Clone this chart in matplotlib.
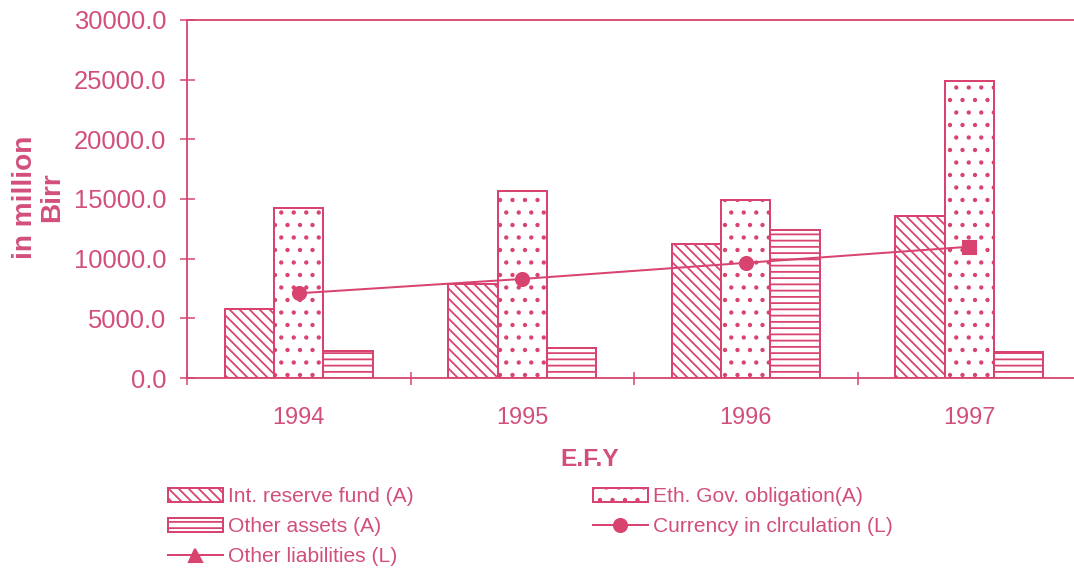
import matplotlib
matplotlib.use("Agg")
import matplotlib.pyplot as plt
from matplotlib.lines import Line2D
import numpy as np

plt.rcParams['font.family'] = ['Liberation Sans', 'DejaVu Sans']

DPI = 150
W, H = 1074, 573


def pt(px):
    """Convert a pixel size at the output resolution into points."""
    return px * 72.0 / DPI


plt.rcParams['hatch.linewidth'] = pt(1.8)

years = ["1994", "1995", "1996", "1997"]
reserve_fund = [5750, 7900, 11200, 13600]
gov_obligation = [14250, 15700, 14900, 24900]
other_assets = [2250, 2500, 12400, 2200]
currency = [7100, 8300, 9650, 11000]

pink = "#d8436f"
text_pink = "#d24f7a"

fig = plt.figure(figsize=(W / DPI, H / DPI), dpi=DPI)
ax = fig.add_axes([187 / W, (H - 378) / H, (1081 - 187) / W, (378 - 20) / H])

x = np.arange(len(years))
w = 0.22
edge = pt(2.0)
ax.bar(x - w, reserve_fund, w, facecolor="white", edgecolor=pink, hatch="\\" * 5,
       linewidth=edge, label="Int. reserve fund (A)")
ax.bar(x, gov_obligation, w, facecolor="white", edgecolor=pink, hatch="..",
       linewidth=edge, label="Eth. Gov. obligation(A)")
ax.bar(x + w, other_assets, w, facecolor="white", edgecolor=pink, hatch="----",
       linewidth=edge, label="Other assets (A)")

ax.plot(x, currency, color=pink, linewidth=pt(2.0), zorder=4)
ax.plot(x[:-1], currency[:-1], linestyle="none", marker="o", markersize=pt(13),
        color=pink, zorder=5)
ax.plot(x[-1:], currency[-1:], linestyle="none", marker="s", markersize=pt(13),
        color=pink, zorder=5)

ax.set_xlim(-0.5, len(years) - 0.5)
ax.set_ylim(0, 30000)
yt = np.arange(0, 30001, 5000)
ax.set_yticks(yt)
ax.set_yticklabels([f"{v:.1f}" for v in yt])
ax.set_xticks(x)
ax.set_xticklabels(years)
ax.set_xticks(np.arange(-0.5, len(years), 1.0), minor=True)
ax.tick_params(axis="x", which="major", length=0, pad=pt(28), labelsize=pt(23.5),
               labelcolor=text_pink)
ax.tick_params(axis="x", which="minor", direction="inout", length=pt(13), width=pt(1.5),
               color=pink)
ax.tick_params(axis="y", direction="inout", length=pt(15), width=pt(1.5), color=pink,
               labelsize=pt(25.5), labelcolor=text_pink, pad=pt(13))

for side in ["left", "bottom", "top"]:
    ax.spines[side].set_color(pink)
    ax.spines[side].set_linewidth(pt(1.8))
ax.spines["right"].set_visible(False)

fig.text(590 / W, 1 - 460 / H, "E.F.Y", ha="center", va="center",
         fontsize=pt(24.5), fontweight="bold", color=text_pink)
fig.text(39 / W, 1 - 197 / H, "in million\nBirr", rotation=90, ha="center", va="center",
         fontsize=pt(28), fontweight="bold", color=text_pink, linespacing=1.05)

handles, labels = ax.get_legend_handles_labels()
bar_h = {l: h for h, l in zip(handles, labels)}
cur_h = Line2D([], [], color=pink, marker="o", markersize=pt(13), linewidth=pt(2))
oth_h = Line2D([], [], color=pink, marker="^", markersize=pt(13), linewidth=pt(2))

leg_kw = dict(loc="upper left", frameon=False, fontsize=pt(21), handlelength=2.6,
              handleheight=0.65, handletextpad=0.25, labelspacing=0.53,
              borderaxespad=0, borderpad=0, labelcolor=text_pink)
fig.legend([bar_h["Int. reserve fund (A)"], bar_h["Other assets (A)"], oth_h],
           ["Int. reserve fund (A)", "Other assets (A)", "Other liabilities (L)"],
           bbox_to_anchor=(168 / W, 1 - 487 / H), **leg_kw)
fig.legend([bar_h["Eth. Gov. obligation(A)"], cur_h],
           ["Eth. Gov. obligation(A)", "Currency in clrculation (L)"],
           bbox_to_anchor=(593 / W, 1 - 487 / H), **leg_kw)

fig.savefig("out.png", dpi=DPI)
